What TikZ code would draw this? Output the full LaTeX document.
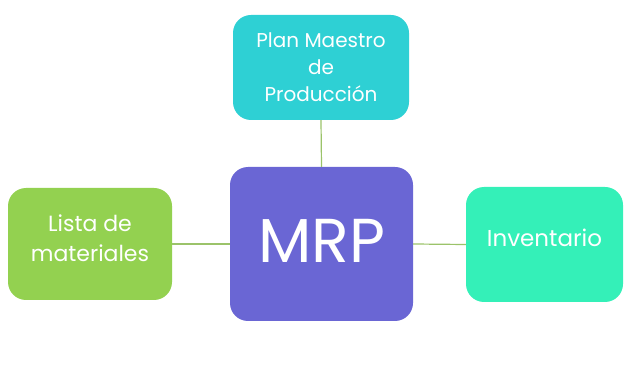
\documentclass[tikz,border=0pt]{standalone}
\usepackage{fontspec}
\setmainfont{Poppins}
\definecolor{cTop}{HTML}{2ED0D4}
\definecolor{cMid}{HTML}{6A66D4}
\definecolor{cLeft}{HTML}{93D150}
\definecolor{cRight}{HTML}{34F0B8}
\definecolor{cLine}{HTML}{9BC36A}
\begin{document}
\begin{tikzpicture}[x=1pt,y=-1pt,
  box/.style={rounded corners=18pt,inner sep=0pt},
  lbl/.style={text=white,anchor=base,inner sep=0pt},
  link/.style={draw=cLine,line width=1.2pt}]
\useasboundingbox (0,0) rectangle (640,371);
\node[box,fill=cTop,minimum width=176pt,minimum height=105pt] (top) at (321,67.5) {};
\node[box,fill=cMid,minimum width=183pt,minimum height=154pt] (mrp) at (321.5,244) {};
\node[box,fill=cLeft,minimum width=164pt,minimum height=112pt] (left) at (90,244) {};
\node[box,fill=cRight,minimum width=157pt,minimum height=115pt] (right) at (544.5,244.5) {};
\node[lbl,font=\fontsize{20}{24}\selectfont] (t1) at (321,48) {Plan Maestro};
\node[lbl,font=\fontsize{20}{24}\selectfont] (t2) at (321,75) {de};
\node[lbl,font=\fontsize{20}{24}\selectfont] (t3) at (321,102) {Producción};
\node[lbl,font=\fontsize{62}{64}\selectfont] (m1) at (321.5,263) {MRP};
\node[lbl,font=\fontsize{22}{26}\selectfont] (l1) at (90,232) {Lista de};
\node[lbl,font=\fontsize{22}{26}\selectfont] (l2) at (90,262) {materiales};
\node[lbl,font=\fontsize{23}{26}\selectfont] (r1) at (544.5,247) {Inventario};
\draw[link] (top.south) -- (mrp.north);
\draw[link] (left.east) -- (mrp.west);
\draw[link] (mrp.east) -- (right.west);
\end{tikzpicture}
\end{document}
